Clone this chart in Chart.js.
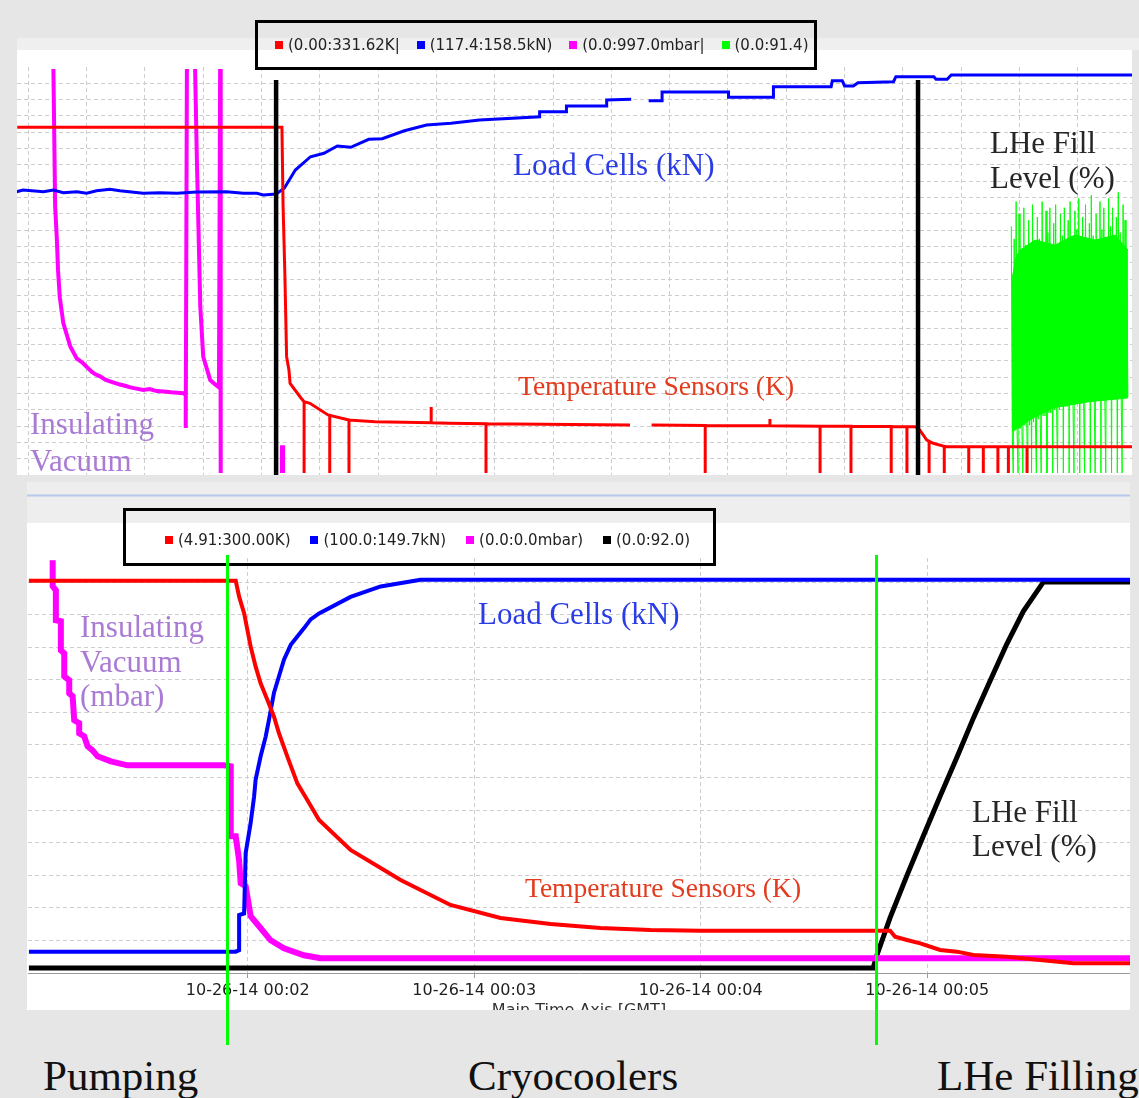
<!DOCTYPE html>
<html>
<head>
<meta charset="utf-8">
<title>Magnet cooldown</title>
<script src="https://cdn.jsdelivr.net/npm/chart.js@4.4.1/dist/chart.umd.min.js"></script>
<style>
  html, body { margin: 0; padding: 0; }
  body { width: 1139px; height: 1098px; background: #e6e6e6; position: relative; overflow: hidden; }
  .box { position: absolute; }
  canvas { position: absolute; }
  .note { position: absolute; font-family: 'Liberation Serif', serif; font-size: 31px; line-height: 35px; white-space: nowrap; }
  .legend { position: absolute; border: 3px solid #000; box-sizing: border-box; display: flex; align-items: center;
            font: 15px 'DejaVu Sans', sans-serif; color: #222; white-space: nowrap; }
  .legend span { display: inline-flex; align-items: center; }
  .legend i { display: inline-block; width: 8px; height: 8px; margin-right: 5px; }
  .phase { position: absolute; top: 555px; width: 3px; height: 490px; background: #00ff00; }
  .stage { position: absolute; top: 1054px; font: 43px 'Liberation Serif', serif; line-height: 43px; color: #111; }
</style>
</head>
<body>

<!-- top panel -->
<div class="box" style="left:17px;top:38px;width:1122px;height:12px;background:#efefef"></div>
<div class="box" style="left:17px;top:50px;width:1115px;height:425px;background:#fff"></div>
<canvas id="topChart" width="1115" height="408" style="left:17px;top:67px"></canvas>
<div class="note" style="left:513px;top:147px;color:#2a3ce6">Load Cells (kN)</div>
<div class="note" style="left:990px;top:125px;color:#262626">LHe Fill<br>Level (%)</div>
<div class="note" style="left:518px;top:371px;font-size:27.5px;line-height:30px;color:#e23b1e">Temperature Sensors (K)</div>
<div class="note" style="left:30px;top:406px;line-height:36.5px;color:#a97bd4">Insulating<br>Vacuum</div>
<div class="legend" id="topLegend" style="left:255px;top:20px;width:562px;height:50px;padding-left:17px;gap:17px"></div>

<!-- bottom panel -->
<div class="box" style="left:27px;top:482px;width:1103px;height:41px;background:#eeeeee"></div>
<div class="box" style="left:27px;top:494px;width:1103px;height:3px;background:linear-gradient(#dbe4f2,#b7c9e6,#dbe4f2)"></div>
<div class="box" style="left:27px;top:523px;width:1103px;height:487px;background:#fff"></div>
<div class="box" style="left:28px;top:558px;width:1102px;height:452px;overflow:hidden">
  <canvas id="bottomChart" width="1102" height="464" style="left:0;top:0"></canvas>
</div>
<div class="note" style="left:478px;top:596px;color:#2a3ce6">Load Cells (kN)</div>
<div class="note" style="left:80px;top:610px;line-height:34.5px;color:#a97bd4">Insulating<br>Vacuum<br>(mbar)</div>
<div class="note" style="left:525px;top:873px;font-size:27.5px;line-height:30px;color:#e23b1e">Temperature Sensors (K)</div>
<div class="note" style="left:972px;top:795px;line-height:33.5px;color:#262626">LHe Fill<br>Level (%)</div>
<div class="legend" id="bottomLegend" style="left:123px;top:508px;width:593px;height:58px;padding-left:39px;padding-top:6px;gap:20px"></div>

<div class="stage" style="left:43px">Pumping</div>
<div class="stage" style="left:468px">Cryocoolers</div>
<div class="stage" style="left:937px">LHe Filling</div>

<script>
// ---------- top panel: long history, time in hours ----------
// [hours, K]; dropouts to 0 K are single readings
const topTemperature = [
  [-0.19, 282.6], [4.35, 282.6], [4.37, 218.1], [4.40, 164.0], [4.43, 96.2], [4.47, 85.3], [4.49, 74.5], [4.66, 63.6],
  [4.73, 59.6], [4.73, 0], [4.73, 59.6], [4.83, 58.3], [5.14, 48.8],
  [5.17, 48.5], [5.17, 0], [5.17, 48.5],
  [5.50, 44.7], [5.50, 0], [5.50, 44.7], [5.95, 43.3],
  [6.91, 42.4], [6.91, 55.3], [6.91, 42.4], [7.21, 42.0],
  [7.85, 41.6], [7.85, 0], [7.85, 41.6],
  [10.32, 40.6], [10.50, null], [10.69, 40.6],
  [11.61, 40.3], [11.61, 0], [11.61, 40.3],
  [12.72, 40.0], [12.72, 45.5], [12.72, 40.0],
  [13.58, 39.7], [13.58, 0], [13.58, 39.7],
  [14.11, 39.6], [14.11, 0], [14.11, 39.6],
  [14.80, 39.4], [14.80, 0], [14.80, 39.4],
  [15.07, 39.3], [15.07, 0], [15.07, 39.3],
  [15.21, 39.3], [15.29, 36.6], [15.41, 28.4],
  [15.45, 27.5], [15.45, 0], [15.45, 27.5], [15.52, 25.8],
  [15.71, 23.3], [15.71, 0], [15.71, 23.3], [15.75, 23.0],
  [16.13, 23.0], [16.13, 0], [16.13, 23.0],
  [16.38, 23.0], [16.38, 0], [16.38, 23.0],
  [16.63, 23.0], [16.63, 0], [16.63, 23.0],
  [16.81, 23.0], [16.81, 0], [16.81, 23.0],
  [17.13, 23.0], [17.13, 0], [17.13, 23.0],
  [18.93, 23.0]
];
// [hours, kN]
const topLoad = [
  [-0.20, 145.94], [-0.09, 146.11], [0.26, 145.94], [0.43, 146.11], [0.60, 145.84], [0.83, 145.94], [1.00, 145.78],
  [1.17, 146.04], [1.40, 146.18], [1.57, 146.04], [1.97, 145.78], [2.26, 145.84], [2.55, 145.78], [2.89, 145.91],
  [3.40, 145.94], [3.69, 145.78], [3.92, 145.78], [4.03, 145.61], [4.25, 145.71],
  [4.39, 146.28], [4.58, 148.12], [4.84, 149.46], [5.07, 149.81], [5.30, 150.54], [5.53, 150.41], [5.84, 151.22],
  [6.07, 151.28], [6.45, 152.08], [6.83, 152.66], [7.25, 152.83], [7.74, 153.16], [8.77, 153.49], [8.77, 153.99],
  [9.23, 153.99], [9.23, 154.57], [9.92, 154.57], [9.92, 155.18], [10.34, 155.25], [10.49, null], [10.64, 155.11],
  [10.87, 155.11], [10.87, 155.98], [12.01, 155.98], [12.01, 155.45], [12.78, 155.45], [12.78, 156.52], [13.77, 156.52],
  [13.79, 157.12], [13.96, 157.12], [14.00, 156.59], [14.15, 156.59], [14.23, 156.92], [14.84, 157.02], [14.88, 157.52],
  [15.53, 157.52], [15.57, 157.26], [15.76, 157.26], [15.83, 157.69], [18.93, 157.69]
];
// [hours, mbar]
const topVacuum = [
  [0.43, 997], [0.46, 658], [0.49, 574], [0.51, 500], [0.54, 434], [0.60, 371], [0.72, 314], [0.83, 285], [0.94, 273],
  [1.09, 252], [1.15, 246], [1.23, 241], [1.32, 233], [1.40, 229], [1.57, 221], [1.66, 218], [1.75, 214], [1.97, 208],
  [2.08, 210], [2.20, 205], [2.33, 204], [2.45, 202], [2.66, 200], [2.70, 196], [2.70, 115],
  [2.72, 997], [2.86, 997], [2.89, 778], [2.95, 411], [3.00, 289], [3.12, 232], [3.20, 222], [3.27, 214],
  [3.29, 997], [3.30, 0], [4.35, 0], [4.35, 68], [4.37, 68], [4.37, 0], [18.93, 0]
];
// LHe level: the dense band read as upper / lower envelope, plus the individual spikes and dropouts
const topFillUpper = [
  [16.87, 62.8], [16.94, 70.0], [17.01, 72.4], [17.27, 75.6], [17.61, 74.0], [17.95, 77.2], [18.30, 75.6],
  [18.64, 77.2], [18.86, 72.4]
];
const topFillLower = [
  [16.87, 13.8], [17.20, 18.0], [17.57, 21.6], [18.20, 23.6], [18.86, 24.8]
];
// evenly clocked samples between topFillStart and topFillEnd
const topFillStart = 16.86;
const topFillEnd = 18.86;
const topFillLevel = [
  80, 14, 0, 76, 15, 88, 14, 0, 84, 15, 70, 15, 0, 86, 16, 74, 16, 0, 82, 16, 68, 0, 87, 17, 72, 17, 0, 83, 18, 76,
  18, 0, 88, 19, 71, 19, 85, 0, 78, 20, 86, 20, 69, 0, 81, 21, 87, 21, 0, 73, 21, 84, 22, 77, 0, 86, 22, 70, 22, 82,
  0, 88, 23, 74, 23, 0, 85, 23, 79, 23, 89, 0, 72, 24, 83, 24, 0, 87, 24, 75, 24, 81, 0, 90, 24, 77, 25, 0, 84, 25,
  70, 25, 88, 0, 79, 25, 86, 25, 0, 73, 25, 89, 25, 80, 0, 86, 25, 74, 25, 83, 0, 91, 25, 78, 25, 0, 87, 25, 82, 25,
  60, 25
];
const topMarkerHours = [4.25, 15.26];
const topMarkerTop = 24.2; // in grid rows
const topGridHours = [0, 1, 2, 3, 4, 5, 6, 7, 8, 9, 10, 11, 12, 13, 14, 15, 16, 17, 18];
const topGridRows = [1, 2, 3, 4, 5, 6, 7, 8, 9, 10, 11, 12, 13, 14, 15, 16, 17, 18, 19, 20, 21, 22, 23, 24];
const topLegendLabels = ['(0.00:331.62K|', '(117.4:158.5kN)', '(0.0:997.0mbar|', '(0.0:91.4)'];
const topColors = ['#ff0000', '#0000ff', '#ff00ff', '#00ff00'];

// ---------- bottom panel: sequence, minutes after 10-26-14 00:00 ----------
const bottomTemperature = [
  [1.034, 300.0], [1.947, 300.0], [1.962, 287.7], [1.984, 274.9], [2.013, 249.1], [2.035, 233.7], [2.057, 220.9],
  [2.087, 208.0], [2.116, 195.1], [2.138, 182.3], [2.175, 164.3], [2.219, 143.7], [2.263, 130.9], [2.315, 115.4],
  [2.454, 92.3], [2.675, 69.2], [2.895, 49.9], [3.116, 39.9], [3.337, 35.2], [3.557, 32.2], [3.778, 30.5],
  [3.998, 30.1], [4.836, 30.1], [4.858, 25.4], [4.910, 22.9], [4.969, 20.3], [5.057, 15.2], [5.131, 13.9],
  [5.204, 11.3], [5.351, 10.0], [5.498, 7.5], [5.645, 4.91], [5.895, 4.91]
];
const bottomLoad = [
  [1.034, 100.0], [1.947, 100.0], [1.962, 100.2], [1.962, 104.9], [1.984, 105.1], [1.991, 113.2], [2.013, 117.2],
  [2.028, 120.7], [2.035, 123.0], [2.057, 126.1], [2.079, 128.7], [2.094, 131.0], [2.116, 134.6], [2.138, 136.8],
  [2.160, 139.0], [2.190, 141.0], [2.219, 142.1], [2.248, 143.2], [2.278, 144.4], [2.315, 145.2], [2.454, 147.4],
  [2.587, 148.8], [2.763, 149.7], [5.895, 149.7]
];
// vacuum in 1e-3 mbar
const bottomVacuum = [
  [1.139, 39.8], [1.139, 37.2], [1.153, 36.8], [1.153, 33.8], [1.175, 33.7], [1.175, 30.8], [1.190, 30.5],
  [1.190, 28.2], [1.212, 27.8], [1.212, 26.5], [1.227, 26.2], [1.234, 23.8], [1.256, 23.5], [1.256, 22.5],
  [1.278, 22.2], [1.293, 21.2], [1.315, 20.8], [1.337, 20.2], [1.396, 19.7], [1.469, 19.3], [1.895, 19.3],
  [1.925, 19.2], [1.925, 12.2], [1.947, 12.2], [1.962, 9.8], [1.969, 7.5], [1.991, 7.2], [2.013, 4.2],
  [2.050, 3.2], [2.101, 1.8], [2.160, 1.0], [2.248, 0.3], [2.322, 0.0], [5.895, 0.0]
];
const bottomFillLevel = [
  [1.034, 0], [4.761, 0], [4.778, 3.1], [4.836, 12.0], [4.910, 22.0], [4.983, 31.5], [5.057, 41.0], [5.131, 50.2],
  [5.204, 59.6], [5.278, 68.5], [5.351, 77.2], [5.424, 85.0], [5.513, 92.0], [5.895, 92.0]
];
const phaseMinutes = [1.912, 4.775];
const bottomTickMinutes = [2, 3, 4, 5];
const bottomTickLabels = ['10-26-14 00:02', '10-26-14 00:03', '10-26-14 00:04', '10-26-14 00:05'];
const bottomGridRows = [1, 2, 3, 4, 5, 6, 7, 8, 9, 10, 11, 12];
const bottomLegendLabels = ['(4.91:300.00K)', '(100.0:149.7kN)', '(0.0:0.0mbar)', '(0.0:92.0)'];
const bottomColors = ['#ff0000', '#0000ff', '#ff00ff', '#000000'];

const gridColor = '#cdcdcd';
const gridDash = [4, 3];

const pts = arr => arr.map(([x, y]) => ({ x, y }));

function markerLines(times, top) {
  const out = [];
  times.forEach(t => out.push({ x: t, y: -1 }, { x: t, y: top }, { x: t, y: null }));
  return out;
}

function hiddenAxis(min, max) {
  return { type: 'linear', display: false, min, max };
}

function gridAxis(axis, min, max, values) {
  return {
    type: 'linear', axis, position: axis === 'x' ? 'bottom' : 'left', min, max,
    afterBuildTicks: scale => { scale.ticks = values.map(v => ({ value: v })) },
    ticks: { display: false },
    grid: { color: gridColor, drawTicks: false },
    border: { display: false, dash: gridDash }
  };
}

function fillLegend(id, labels, colors) {
  document.getElementById(id).innerHTML = labels
    .map((l, i) => `<span><i style="background:${colors[i]}"></i>${l}</span>`)
    .join('');
}

const baseOptions = {
  responsive: false,
  animation: false,
  events: [],
  elements: { point: { radius: 0 }, line: { tension: 0 } },
  plugins: { legend: { display: false }, tooltip: { enabled: false } }
};

// trims half a line width at the top and bottom edges
const topClip = { left: 0, top: -2, right: 0, bottom: -2 };

const topFillData = topFillLevel.map((v, i) => ({
  x: topFillStart + i * (topFillEnd - topFillStart) / (topFillLevel.length - 1),
  y: v
}));

new Chart(document.getElementById('topChart'), {
  type: 'line',
  data: {
    datasets: [
      { label: 'markers', data: markerLines(topMarkerHours, topMarkerTop), yAxisID: 'g', borderColor: '#000', borderWidth: 4.5, clip: false },
      { label: topLegendLabels[0], data: pts(topTemperature), yAxisID: 'yT', borderColor: topColors[0], borderWidth: 3, clip: topClip },
      { label: topLegendLabels[1], data: pts(topLoad), yAxisID: 'yL', borderColor: topColors[1], borderWidth: 3, clip: topClip },
      { label: topLegendLabels[2], data: pts(topVacuum), yAxisID: 'yV', borderColor: topColors[2], borderWidth: 4, clip: topClip },
      { label: topLegendLabels[3], data: topFillData, yAxisID: 'yF', borderColor: topColors[3], borderWidth: 1, clip: topClip },
      { label: 'fill band', data: pts(topFillUpper), yAxisID: 'yF', borderColor: topColors[3], borderWidth: 1,
        backgroundColor: topColors[3], fill: { target: 6 }, clip: topClip },
      { label: 'fill band low', data: pts(topFillLower), yAxisID: 'yF', borderColor: topColors[3], borderWidth: 1, clip: topClip }
    ]
  },
  options: {
    ...baseOptions,
    scales: {
      x: gridAxis('x', -0.194, 18.93, topGridHours),
      g: gridAxis('y', 0, 25, topGridRows),
      yT: hiddenAxis(0, 331.62),
      yL: hiddenAxis(117.4, 158.5),
      yV: hiddenAxis(0, 997),
      yF: hiddenAxis(0, 131.3)
    }
  }
});

const bottomChart = new Chart(document.getElementById('bottomChart'), {
  type: 'line',
  data: {
    datasets: [
      { label: bottomLegendLabels[0], data: pts(bottomTemperature), yAxisID: 'yT', borderColor: bottomColors[0], borderWidth: 4 },
      { label: bottomLegendLabels[1], data: pts(bottomLoad), yAxisID: 'yL', borderColor: bottomColors[1], borderWidth: 4 },
      { label: bottomLegendLabels[2], data: pts(bottomVacuum), yAxisID: 'yV', borderColor: bottomColors[2], borderWidth: 6 },
      { label: bottomLegendLabels[3], data: pts(bottomFillLevel), yAxisID: 'yF', borderColor: bottomColors[3], borderWidth: 5 }
    ]
  },
  options: {
    ...baseOptions,
    scales: {
      x: {
        type: 'linear', min: 1.03, max: 5.895,
        afterBuildTicks: scale => { scale.ticks = bottomTickMinutes.map(v => ({ value: v })) },
        afterFit: scale => { scale.height = 49 },
        ticks: {
          autoSkip: false, maxRotation: 0, padding: 3, color: '#1e1e1e',
          font: { family: 'DejaVu Sans', size: 16 },
          callback: (v, i) => bottomTickLabels[i]
        },
        grid: { color: gridColor, tickColor: '#9a9a9a', tickLength: 5, tickBorderDash: [] },
        border: { display: true, color: '#9a9a9a', width: 1, dash: gridDash },
        title: {
          display: true, text: 'Main Time Axis [GMT]', color: '#333',
          font: { family: 'DejaVu Sans', size: 16 }, padding: { top: 0, bottom: 2 }
        }
      },
      g: gridAxis('y', 0, 12.74, bottomGridRows),
      yT: hiddenAxis(-2.57, 317.5),
      yL: hiddenAxis(97.15, 152.6),
      yV: hiddenAxis(-1.47, 40.03),
      yF: hiddenAxis(-1.19, 97.7)
    }
  }
});

fillLegend('topLegend', topLegendLabels, topColors);
fillLegend('bottomLegend', bottomLegendLabels, bottomColors);

// phase boundaries run past the plot, down to the stage names
const xScale = bottomChart.scales.x;
phaseMinutes.forEach(t => {
  const line = document.createElement('div');
  line.className = 'phase';
  line.style.left = (28 + xScale.getPixelForValue(t) - 1.5) + 'px';
  document.body.appendChild(line);
});
</script>
</body>
</html>
